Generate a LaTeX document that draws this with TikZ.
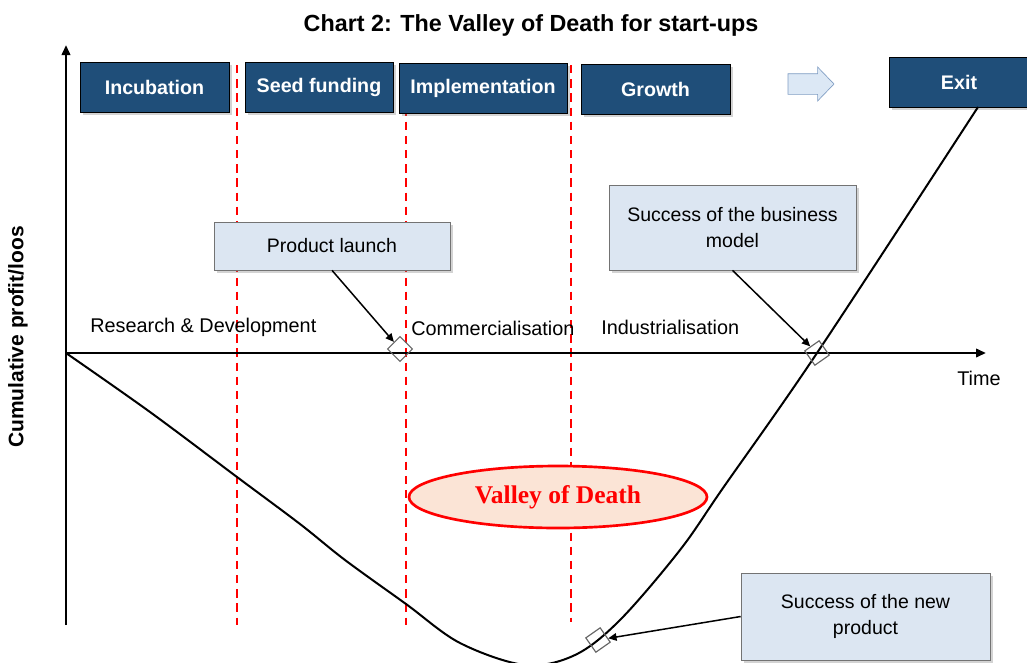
\documentclass[tikz,border=0pt]{standalone}
\usepackage{fontspec}
\setmainfont{Liberation Sans}
\newfontfamily\valleyfont{Liberation Serif}
\usetikzlibrary{shapes.geometric, shapes.arrows, shadows, arrows.meta}

\definecolor{phaseblue}{RGB}{31,78,121}
\definecolor{notefill}{RGB}{220,230,242}
\definecolor{valleyfill}{RGB}{251,228,214}
\definecolor{arrowfill}{RGB}{220,232,245}
\definecolor{arrowedge}{RGB}{127,157,195}

\begin{document}
\begin{tikzpicture}
    [
        x = 0.6pt, y = -0.6pt,
        phase/.style = {draw = black, fill = phaseblue, text = white, inner sep = 0pt,
            minimum height = 30pt, font = \bfseries\fontsize{11.8}{13}\selectfont,
            drop shadow = {shadow xshift = 1.5pt, shadow yshift = -1.5pt, opacity = 0.35}},
        notebox/.style = {draw = black!55, fill = notefill, align = center, inner sep = 0pt,
            font = \fontsize{11.7}{15.6}\selectfont,
            drop shadow = {shadow xshift = 1.5pt, shadow yshift = -1.5pt, opacity = 0.35}},
        stage/.style = {anchor = west, inner sep = 0pt, font = \fontsize{11.9}{13}\selectfont},
        milestone/.style = {draw = black!60, line width = 0.7pt, rectangle, minimum width = 10.5pt,
            minimum height = 10.5pt, inner sep = 0pt},
        pointer/.style = {line width = 0.9pt, -{Triangle[length = 5pt, width = 4.5pt]}},
        phaseline/.style = {red, line width = 1.1pt, dash pattern = on 5pt off 3.5pt},
        axisline/.style = {line width = 1.6pt, -{Triangle[length = 6pt, width = 5pt]}}
    ]

    \useasboundingbox (0,0) rectangle (1027,662);
    \clip (0,0) rectangle (1027,662);

    \node (title) at (531,25) {\bfseries\fontsize{14}{16}\selectfont Chart 2: The Valley of Death for start-ups};

    % phase borders
    \draw[phaseline] (237,65) -- (237,625);
    \draw[phaseline] (406,65) -- (406,625);
    \draw[phaseline] (571,65) -- (571,622);

    % axes
    \coordinate (origin) at (66,353);
    \coordinate (ytop) at (66,45);
    \coordinate (ybottom) at (66,625);
    \coordinate (xend) at (986,353);
    \draw[axisline] (ybottom) -- (ytop);
    \draw[axisline] (origin) -- (xend);

    \node[rotate = 90, font = \bfseries\fontsize{12.6}{14}\selectfont] (ylabel) at (18,337) {Cumulative profit/loos};
    \node[stage] (time) at (957,378) {Time};
    \node[stage] (rnd) at (90,327) {Research \& Development};
    \node[stage] (comm) at (411,328) {Commercialisation};
    \node[stage] (indus) at (601,327) {Industrialisation};

    % phases along the top
    \node[phase, minimum width = 89.4pt] (incubation) at (154.5,87) {Incubation};
    \node[phase, minimum width = 88.8pt] (seed) at (319,87) {Seed funding};
    \node[phase, minimum width = 100.8pt] (impl) at (483,88) {Implementation};
    \node[phase, minimum width = 89.4pt] (growth) at (655.5,89.5) {Growth};
    \node[phase, minimum width = 84pt] (exit) at (959,82) {Exit};
    \node[single arrow, draw = arrowedge, fill = arrowfill, inner sep = 6pt, minimum height = 27.6pt,
        single arrow head extend = 4pt, single arrow tip angle = 92] (toexit) at (806,84) {};

    % cumulative cash curve
    \draw[line width = 1.2pt] plot[smooth, tension = 0.55] coordinates {
        (66,353) (150,412) (237,477) (300,524) (345,560) (406,604) (460,643)
        (525,665) (575,655) (620,620) (680,550) (723,488) (817,353) (978,107)};

    \node[ellipse, draw = red, line width = 1.6pt, fill = valleyfill, text = red, inner sep = 0pt,
        minimum width = 178.8pt, minimum height = 37.2pt,
        font = \valleyfont\bfseries\fontsize{15.3}{17}\selectfont] (valley) at (558,497) {Valley of Death};

    % milestones
    \node[milestone, rotate = 45] (dlaunch) at (400,349) {};
    \node[milestone, rotate = 35] (dbiz) at (817,353) {};
    \node[milestone, rotate = 35] (dprod) at (598,640) {};

    \node[notebox, minimum width = 141.6pt, minimum height = 28.8pt] (launch) at (332,246) {Product launch};
    \node[notebox, minimum width = 148.2pt, minimum height = 51pt] (bizmodel) at (732.5,227.5) {Success of the business\\model};
    \node[notebox, minimum width = 149.4pt, minimum height = 52.2pt] (newprod) at (865.5,616.5) {Success of the new\\product};

    \draw[pointer] (launch.south) -- (dlaunch);
    \draw[pointer] (bizmodel.south) -- (dbiz);
    \draw[pointer] (newprod.west) -- (dprod);

\end{tikzpicture}
\end{document}
